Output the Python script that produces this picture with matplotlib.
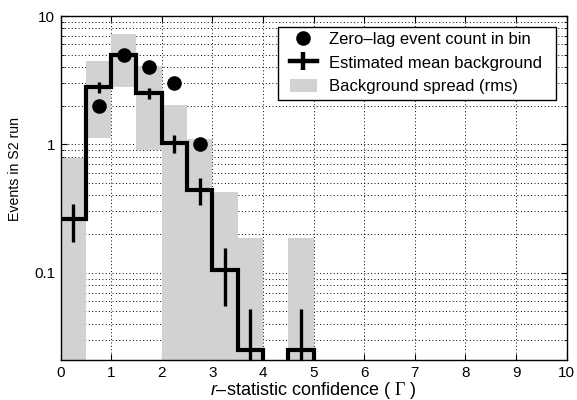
import numpy as np
import matplotlib
matplotlib.use("Agg")
import matplotlib.pyplot as plt
from matplotlib.lines import Line2D
from matplotlib.patches import Patch, Rectangle
from matplotlib.ticker import LogLocator, FuncFormatter, NullFormatter

plt.rcParams["font.family"] = ["Liberation Sans", "DejaVu Sans"]
plt.rcParams["mathtext.fontset"] = "custom"
plt.rcParams["mathtext.rm"] = "Liberation Serif"
plt.rcParams["mathtext.it"] = "Liberation Sans:italic"

# r-statistic bins (width 0.5)
bin_edges = [0.0, 0.5, 1.0, 1.5, 2.0, 2.5, 3.0, 3.5, 4.0, 4.5, 5.0]
# estimated mean background per bin, its uncertainty, and rms spread
mean_bg = [0.26, 2.8, 5.0, 2.5, 1.02, 0.44, 0.105, 0.025, 0.0, 0.025]
err_bg = [0.085, 0.28, 0.45, 0.26, 0.17, 0.105, 0.05, 0.027, 0.0, 0.027]
rms_bg = [0.52, 1.68, 2.2, 1.6, 1.02, 0.67, 0.32, 0.163, 0.0, 0.163]
# zero-lag event counts per bin
zero_lag = [0, 2, 5, 4, 3, 1, 0, 0, 0, 0]

legend_labels = ["Zero\u2013lag event count in bin",
                 "Estimated mean background",
                 "Background spread (rms)"]
x_label = r"$\mathit{r}$" + "\u2013statistic confidence ( " + r"$\Gamma$" + " )"
y_label = "Events in S2 run"

edges = np.asarray(bin_edges)
mean = np.asarray(mean_bg)
err = np.asarray(err_bg)
rms = np.asarray(rms_bg)
counts = np.asarray(zero_lag, dtype=float)
left = edges[:-1]
centers = left + np.diff(edges) / 2
width = np.diff(edges)

ymin, ymax = 0.0209, 10.0
gray = "#d2d2d2"

fig = plt.figure(figsize=(5.77, 4.00), dpi=100)
ax = fig.add_axes([0.105, 0.10, 0.877, 0.86])
ax.set_yscale("log")
ax.set_xlim(0, 10)
ax.set_ylim(ymin, ymax)
ax.set_axisbelow(True)

# rms spread band around the mean background
lo = np.clip(mean - rms, ymin * 0.1, None)
hi = mean + rms
ax.bar(left, hi - lo, bottom=lo, width=width, align="edge",
       color=gray, edgecolor="none", zorder=1)

# mean background as a step histogram
sx = np.repeat(edges, 2)[1:]
sy = np.append(np.repeat(mean, 2), 0.0)
ax.plot(sx, sy, color="k", lw=3.0, solid_joinstyle="miter", zorder=3)

# uncertainty on the mean background
has_bg = mean > 0
ax.errorbar(centers[has_bg], mean[has_bg], yerr=err[has_bg], fmt="none",
            ecolor="k", elinewidth=2.4, capsize=0, zorder=3)

# zero-lag counts
nz = counts > 0
ax.plot(centers[nz], counts[nz], "o", color="k", ms=9.5, zorder=4)

# grid and ticks
ax.yaxis.set_major_locator(LogLocator(base=10, numticks=10))
ax.yaxis.set_minor_locator(LogLocator(base=10, subs=np.arange(2, 10), numticks=20))
ax.yaxis.set_major_formatter(FuncFormatter(lambda v, p: f"{v:g}"))
ax.yaxis.set_minor_formatter(NullFormatter())
ax.set_xticks(np.arange(0, 11, 1))
ax.grid(True, which="major", axis="x", color="k", ls=(0, (1, 2.5)), lw=0.7)
ax.grid(True, which="both", axis="y", color="k", ls=(0, (1, 2.5)), lw=0.7)
ax.tick_params(which="both", direction="in", top=True, right=True,
               labelsize=11, colors="k")
ax.tick_params(which="major", length=4, pad=4)
ax.tick_params(which="minor", length=2)
for s in ax.spines.values():
    s.set_linewidth(1.0)
    s.set_zorder(5)

ax.set_xlabel(x_label, fontsize=13, labelpad=0)
ax.set_ylabel(y_label, fontsize=10.2)
ax.yaxis.set_label_coords(-0.077, 0.555)

# legend: white box with black border, entries inside
ax.add_patch(Rectangle((0.4297, 0.756), 0.5494, 0.213, transform=ax.transAxes,
                       facecolor="white", edgecolor="k", lw=1.0, zorder=6))
handles = [
    Line2D([0], [0], ls="none", marker="o", color="k", ms=9.5),
    Line2D([0], [0], color="k", lw=3.2, marker="|", ms=13, mew=3.2),
    Patch(facecolor=gray, edgecolor="none"),
]
leg = ax.legend(handles, legend_labels, loc="center left",
                bbox_to_anchor=(0.4534, 0.8634), borderaxespad=0, borderpad=0,
                fontsize=12, frameon=False, handlelength=1.6,
                handleheight=0.84, handletextpad=0.76, labelspacing=0.5)
leg.set_zorder(7)

fig.savefig("out.png", dpi=100)
